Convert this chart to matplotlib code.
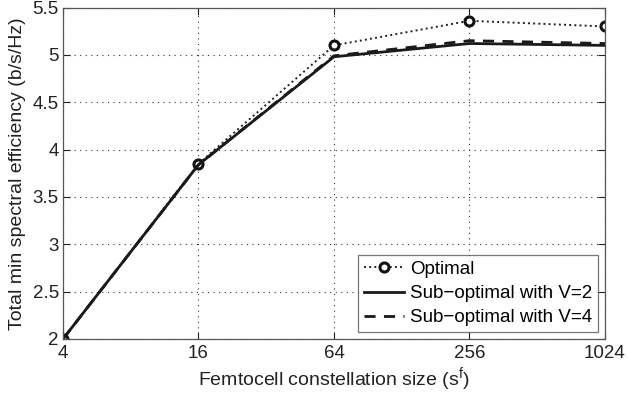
import matplotlib
matplotlib.use("Agg")
import matplotlib.pyplot as plt
from matplotlib.ticker import FixedLocator, FixedFormatter, NullLocator

plt.rcParams['font.family'] = ['Liberation Sans', 'DejaVu Sans']

constellation = [4, 16, 64, 256, 1024]
tick_labels = ['4', '16', '64', '256', '1024']
optimal = [2.0, 3.85, 5.10, 5.36, 5.30]
sub_v2 = [2.0, 3.84, 4.98, 5.12, 5.10]
sub_v4 = [2.0, 3.84, 4.99, 5.15, 5.12]

fig = plt.figure(figsize=(6.28, 3.96), dpi=100)
ax = fig.add_axes([0.1003, 0.144, 0.863, 0.837])

ax.plot(constellation, optimal, linestyle=':', color='#222222', linewidth=1.4,
        marker='o', markersize=6.5, markerfacecolor='white',
        markeredgecolor='#111111', markeredgewidth=2.2, label='Optimal')
ax.plot(constellation, sub_v2, linestyle='-', color='#1a1a1a', linewidth=2.0,
        label='Sub\u2212optimal with V=2')
ax.plot(constellation, sub_v4, linestyle=(0, (4, 3)), color='#1a1a1a', linewidth=2.0,
        label='Sub\u2212optimal with V=4')

ax.set_xscale('log', base=2)
ax.set_xlim(4, 1024)
ax.set_ylim(2, 5.5)
ax.xaxis.set_major_locator(FixedLocator(constellation))
ax.xaxis.set_major_formatter(FixedFormatter(tick_labels))
ax.xaxis.set_minor_locator(NullLocator())
ax.set_yticks([2, 2.5, 3, 3.5, 4, 4.5, 5, 5.5])
ax.set_yticklabels(['2', '2.5', '3', '3.5', '4', '4.5', '5', '5.5'])

ax.grid(True, linestyle=(0, (1, 4)), color='#333333', linewidth=0.8)
ax.tick_params(direction='in', length=5, width=0.8, labelsize=13.5, colors='#222222',
               top=True, right=True, pad=3)
ax.tick_params(axis='x', pad=4)
for s in ax.spines.values():
    s.set_color('#555555')
    s.set_linewidth(0.9)

ax.set_xlabel('Femtocell constellation size (s$^{\\mathregular{f}}$)', fontsize=14, color='#222222', labelpad=3)
ax.set_ylabel('Total min spectral efficiency (b/s/Hz)', fontsize=14, color='#222222', labelpad=5)

leg = ax.legend(loc='lower right', bbox_to_anchor=(0.987, 0.021), fontsize=13.5,
                frameon=True, fancybox=False, edgecolor='#555555',
                handlelength=2.15, handletextpad=0.3, borderpad=0.3,
                labelspacing=0.38, borderaxespad=0)
leg.get_frame().set_linewidth(0.9)

fig.savefig('out.png', dpi=100)
